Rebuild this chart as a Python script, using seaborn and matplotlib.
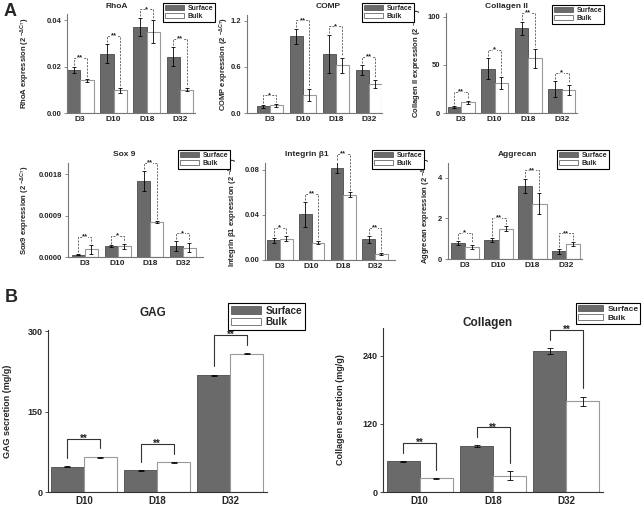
import numpy as np
import pandas as pd
import matplotlib
matplotlib.use('Agg')
import matplotlib.pyplot as plt
import seaborn as sns
from matplotlib.patches import Patch

# ---------------- data ----------------
groups = ['Surface', 'Bulk']
days_a = ['D3', 'D10', 'D18', 'D32']
days_b = ['D10', 'D18', 'D32']

rhoa_surface = [0.0185, 0.0255, 0.037, 0.0243]
rhoa_surface_err = [0.0015, 0.004, 0.004, 0.004]
rhoa_bulk = [0.014, 0.0098, 0.035, 0.010]
rhoa_bulk_err = [0.0005, 0.001, 0.005, 0.0007]
rhoa_sig = ['**', '**', '*', '**']

comp_surface = [0.085, 1.0, 0.77, 0.56]
comp_surface_err = [0.02, 0.1, 0.25, 0.06]
comp_bulk = [0.10, 0.23, 0.62, 0.38]
comp_bulk_err = [0.02, 0.08, 0.1, 0.05]
comp_sig = ['*', '**', '*', '**']

col2_surface = [6, 46, 88, 25]
col2_surface_err = [1, 11, 7, 8]
col2_bulk = [11, 31, 57, 24]
col2_bulk_err = [2, 6, 10, 5]
col2_sig = ['**', '*', '**', '*']

sox9_surface = [0.00005, 0.00023, 0.00165, 0.00024]
sox9_surface_err = [0.00001, 0.00002, 0.00022, 0.0001]
sox9_bulk = [0.00017, 0.00023, 0.00076, 0.0002]
sox9_bulk_err = [0.0001, 0.00005, 0.00003, 0.0001]
sox9_sig = ['**', '*', '**', '*']

itgb1_surface = [0.0175, 0.0405, 0.082, 0.0185]
itgb1_surface_err = [0.002, 0.011, 0.005, 0.003]
itgb1_bulk = [0.019, 0.0155, 0.058, 0.0055]
itgb1_bulk_err = [0.002, 0.001, 0.002, 0.001]
itgb1_sig = ['*', '**', '**', '**']

aggr_surface = [0.79, 0.95, 3.62, 0.38]
aggr_surface_err = [0.1, 0.1, 0.35, 0.12]
aggr_bulk = [0.6, 1.5, 2.74, 0.76]
aggr_bulk_err = [0.1, 0.12, 0.5, 0.1]
aggr_sig = ['*', '**', '**', '**']

gag_surface = [47.5, 40.5, 218]
gag_surface_err = [1, 1, 1]
gag_bulk = [65, 55.5, 258]
gag_bulk_err = [1, 1, 1]
gag_sig = ['**', '**', '**']

coll_surface = [54, 81, 249]
coll_surface_err = [1, 1, 5]
coll_bulk = [24, 29, 160]
coll_bulk_err = [1, 8, 8]
coll_sig = ['**', '**', '**']

# ---------------- style ----------------
sns.set_theme(style='white')
plt.rcParams['font.family'] = ['Liberation Sans', 'DejaVu Sans']
plt.rcParams['font.weight'] = 'bold'
plt.rcParams['axes.labelweight'] = 'bold'
plt.rcParams['mathtext.fontset'] = 'custom'
plt.rcParams['mathtext.rm'] = 'Liberation Sans'
plt.rcParams['mathtext.bf'] = 'Liberation Sans:bold'
plt.rcParams['mathtext.it'] = 'Liberation Sans:italic'
plt.rcParams['mathtext.default'] = 'regular'

W, H = 643, 509
fig = plt.figure(figsize=(W / 100, H / 100), dpi=100)

SURF = '#6a6a6a'
SURF_EDGE = '#4a4a4a'
BULK_EDGE = '#9a9a9a'
SUP = r'$^{-\Delta C_T}$'


def px_axes(l, t, r, b):
    return fig.add_axes([l / W, 1 - b / H, (r - l) / W, (b - t) / H])


def panel(box, days, s, se, b, be, sig, ylim, yticks, yticklabels, xlim,
          title, title_xy, ylabel, ylabel_x, legend_box, big, width,
          leg_fs=5):
    ax = px_axes(*box)
    n = len(days)
    df = pd.DataFrame({'day': days * 2,
                       'group': ['Surface'] * n + ['Bulk'] * n,
                       'value': list(s) + list(b)})
    sns.barplot(data=df, x='day', y='value', hue='group', order=days,
                hue_order=groups, palette={'Surface': SURF, 'Bulk': 'white'},
                width=width, errorbar=None, legend=False, saturation=1,
                ax=ax)
    for p in ax.containers[0]:
        p.set_edgecolor(SURF_EDGE)
        p.set_linewidth(0.6)
    for p in ax.containers[1]:
        p.set_edgecolor(BULK_EDGE)
        p.set_linewidth(0.8)
    xs = [p.get_x() + p.get_width() / 2 for p in ax.containers[0]]
    xb = [p.get_x() + p.get_width() / 2 for p in ax.containers[1]]
    ax.errorbar(xs, s, yerr=se, fmt='none', ecolor='black',
                elinewidth=0.6, capsize=1.3 if not big else 2, capthick=0.6)
    ax.errorbar(xb, b, yerr=be, fmt='none', ecolor='black',
                elinewidth=0.6, capsize=1.3 if not big else 2, capthick=0.6)
    ymax = ylim[1]
    # significance brackets
    for i in range(n):
        ts = s[i] + se[i]
        tb = b[i] + be[i]
        top = max(ts, tb) + (0.11 if big else 0.085) * ymax
        gap = (0.05 if big else 0.02) * ymax
        if big:
            kw = dict(color='#333333', lw=0.8, ls='-')
        else:
            kw = dict(color='#555555', lw=0.6, ls=(0, (2.5, 1.5)))
        ax.plot([xs[i], xs[i], xb[i], xb[i]],
                [ts + gap, top, top, tb + gap], clip_on=False, **kw)
        ax.text((xs[i] + xb[i]) / 2, top, sig[i], ha='center', va='center',
                fontsize=7 if big else 5.5, fontweight='bold', color='#222222',
                bbox=None if big else dict(fc='white', ec='none', pad=0.2))
    ax.set_ylim(*ylim)
    ax.set_xlim(*xlim)
    ax.set_yticks(yticks)
    ax.set_yticklabels(yticklabels)
    ax.set_xlabel('')
    ax.set_ylabel(ylabel, fontsize=6.5 if big else 5.5, fontweight='bold')
    ax.yaxis.set_label_coords((ylabel_x - box[0]) / (box[2] - box[0]), 0.5)
    for sp in ['top', 'right']:
        ax.spines[sp].set_visible(False)
    sc = '#333333' if big else '#777777'
    for sp in ['left', 'bottom']:
        ax.spines[sp].set_color(sc)
        ax.spines[sp].set_linewidth(0.8)
    ax.tick_params(axis='x', length=0, pad=3 if big else 2,
                   labelsize=7 if big else 6)
    ax.tick_params(axis='y', length=2, width=0.6, color=sc, pad=2,
                   labelsize=6.5 if big else 5.5, left=True)
    for lab in ax.get_xticklabels() + ax.get_yticklabels():
        lab.set_fontweight('bold')
    fig.text(title_xy[0] / W, 1 - title_xy[1] / H, title, ha='center',
             va='center', fontsize=8.5 if big else 6, fontweight='bold')
    handles = [Patch(fc=SURF, ec=SURF_EDGE, lw=0.5),
               Patch(fc='white', ec='#666666', lw=0.6)]
    leg = fig.legend(handles, groups, loc='upper left',
                     bbox_to_anchor=(legend_box[0] / W, 1 - legend_box[1] / H),
                     bbox_transform=fig.transFigure, frameon=True,
                     fancybox=False, edgecolor='black', framealpha=1,
                     fontsize=leg_fs, borderpad=0.25,
                     labelspacing=0.15, handlelength=3.0 if big else 2.8,
                     handleheight=0.75, handletextpad=0.5, borderaxespad=0)
    leg.get_frame().set_linewidth(0.8)
    for t in leg.get_texts():
        t.set_fontweight('bold')
    return ax


# Panel A top row
panel((67, 14, 195, 113), days_a, rhoa_surface, rhoa_surface_err, rhoa_bulk,
      rhoa_bulk_err, rhoa_sig, (0, 0.0426), [0, 0.02, 0.04],
      ['0.00', '0.02', '0.04'], (-0.4, 3.45), 'RhoA', (117, 6),
      'RhoA expression (2 ' + SUP + ')', 32, (163, 3), False, 0.8)
panel((247, 15, 382, 113), days_a, comp_surface, comp_surface_err, comp_bulk,
      comp_bulk_err, comp_sig, (0, 1.278), [0, 0.6, 1.2],
      ['0.0', '0.6', '1.2'], (-0.69, 3.4), 'COMP', (328, 6),
      'COMP expression (2 ' + SUP + ')', 231, (362, 3), False, 0.8)
panel((446, 13, 577, 113), days_a, col2_surface, col2_surface_err, col2_bulk,
      col2_bulk_err, col2_sig, (0, 104), [0, 50, 100],
      ['0', '50', '100'], (-0.45, 3.45), 'Collagen II', (506, 6),
      'Collagen II expression (2 ' + SUP + ')', 424, (552, 5), False, 0.8)

# Panel A bottom row
panel((68, 163, 203, 257), days_a, sox9_surface, sox9_surface_err, sox9_bulk,
      sox9_bulk_err, sox9_sig, (0, 0.00204), [0, 0.0009, 0.0018],
      ['0.0000', '0.0009', '0.0018'], (-0.52, 3.62), 'Sox 9', (124, 154),
      'Sox9 expression (2 ' + SUP + ')', 32, (178, 150), False, 0.8)
panel((265, 163, 395, 260), days_a, itgb1_surface, itgb1_surface_err,
      itgb1_bulk, itgb1_bulk_err, itgb1_sig, (0, 0.0862), [0, 0.04, 0.08],
      ['0.00', '0.04', '0.08'], (-0.47, 3.63), 'Integrin β1', (307, 154),
      'Integrin β1 expression (2 ' + SUP + ')', 240, (372, 150), False, 0.8)
panel((448, 163, 582, 259), days_a, aggr_surface, aggr_surface_err, aggr_bulk,
      aggr_bulk_err, aggr_sig, (0, 4.74), [0, 2, 4],
      ['0', '2', '4'], (-0.5, 3.47), 'Aggrecan', (517, 154),
      'Aggrecan expression (2 ' + SUP + ')', 433, (557, 150), False, 0.84)

# Panel B
panel((48, 330, 267, 492), days_b, gag_surface, gag_surface_err, gag_bulk,
      gag_bulk_err, gag_sig, (0, 302), [0, 150, 300],
      ['0', '150', '300'], (-0.49, 2.5), 'GAG', (153, 313),
      'GAG secretion (mg/g)', 12, (228, 303), True, 0.9, leg_fs=7.2)
panel((383, 328, 603, 492), days_b, coll_surface, coll_surface_err, coll_bulk,
      coll_bulk_err, coll_sig, (0, 289), [0, 120, 240],
      ['0', '120', '240'], (-0.5, 2.5), 'Collagen', (488, 323),
      'Collagen secretion (mg/g)', 345, (576, 303), True, 0.9, leg_fs=6)

fig.text(10 / W, 1 - 11 / H, 'A', fontsize=13, fontweight='bold',
         ha='center', va='center')
fig.text(11 / W, 1 - 298 / H, 'B', fontsize=13, fontweight='bold',
         ha='center', va='center')

fig.savefig('out.png', dpi=100)
